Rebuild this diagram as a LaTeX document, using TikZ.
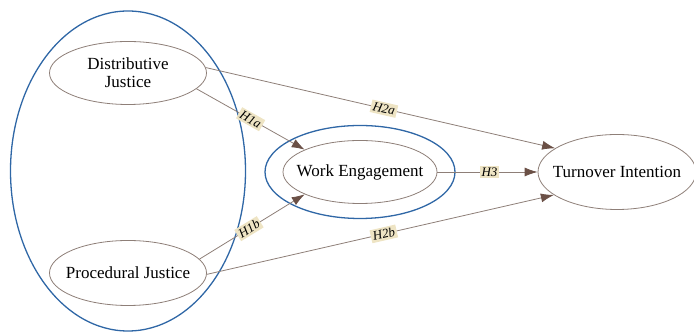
\documentclass[tikz,border=0pt]{standalone}
\usepackage{fontspec}
\setmainfont{Liberation Serif}
\usetikzlibrary{shapes.geometric}
\usetikzlibrary{arrows.meta}
\definecolor{ringblue}{HTML}{2F67A6}
\definecolor{edgegray}{HTML}{8E7F78}
\definecolor{tipbrown}{HTML}{6B5046}
\definecolor{tagbeige}{HTML}{EEE4C4}
\tikzset{
  construct/.style={ellipse, draw=edgegray, thick, fill=white, font=\fontsize{17}{18}\selectfont, align=center, inner xsep=-22pt, inner ysep=-4pt},
  ring/.style={ellipse, draw=ringblue, line width=1.3pt, inner sep=0pt},
  path/.style={draw=edgegray, thick, -{Latex[length=13pt,width=9pt,color=tipbrown]}},
  hyp/.style={fill=tagbeige, font=\fontsize{13}{13}\selectfont\itshape, inner sep=2pt, sloped}
}

\begin{document}
\begin{tikzpicture}[x=1pt, y=1pt]
%%% research model %%%
\useasboundingbox (0,0) rectangle (694,334);

      %% blue rings
      \node[ring, minimum width=235pt, minimum height=320pt] (left ring) at (128,163) {};
      \node[ring, minimum width=190pt, minimum height=93pt] (mid ring) at (360,162) {};

      %% constructs
      \node[construct, minimum width=157pt, minimum height=63pt] (dj) at (128,261) {Distributive\\Justice};
      \node[construct, minimum width=157pt, minimum height=65pt] (pj) at (128,61) {Procedural Justice};
      \node[construct, minimum width=154pt, minimum height=63pt] (we) at (360,162) {Work Engagement};
      \node[construct, minimum width=158pt, minimum height=75pt] (ti) at (617,162) {Turnover Intention};

      %% hypotheses
      \draw[path] (dj.-13) -- node[hyp, pos=0.5] {H1a} (we.158);
      \draw[path] (dj.4) -- node[hyp, pos=0.51] {H2a} (ti.159);
      \draw[path] (pj.11) -- node[hyp, pos=0.47] {H1b} (we.202);
      \draw[path] (pj.-1) -- node[hyp, pos=0.51] {H2b} (ti.200);
      \draw[path] (we.east) -- node[hyp, pos=0.52] {H3} (ti.west);

\end{tikzpicture}
\end{document}
